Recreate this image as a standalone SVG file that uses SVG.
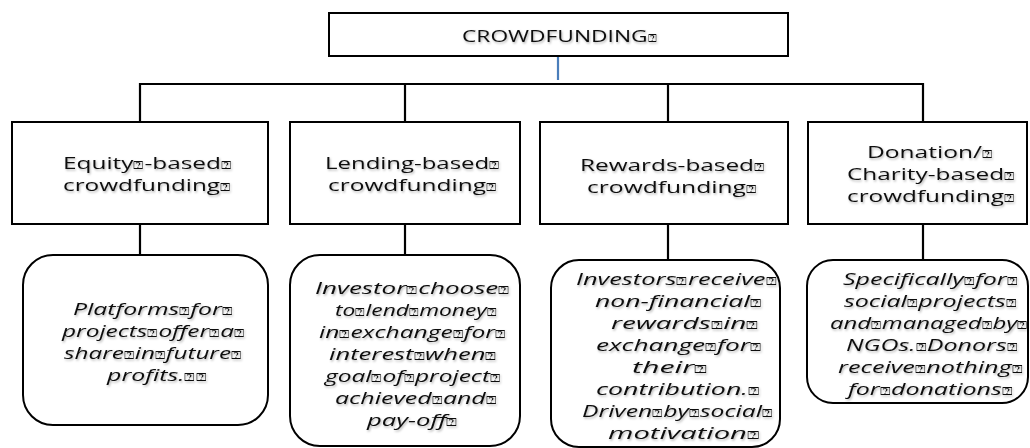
<svg xmlns="http://www.w3.org/2000/svg" width="1030" height="448" viewBox="0 0 1030 448">
<defs>
<filter id="sh" x="-10%" y="-30%" width="120%" height="160%">
<feDropShadow dx="1" dy="1.5" stdDeviation="1" flood-color="#000" flood-opacity="0.3"/>
</filter>
</defs>
<style>
.box{fill:#fff;stroke:#000;stroke-width:2}
.con{fill:none;stroke:#000;stroke-width:2.2}
.blue{stroke:#4a7ebb;stroke-width:2.2;fill:none}
.t{font-family:"Open Sans","DejaVu Sans",sans-serif;font-size:15.5px;fill:#111;filter:url(#sh)}
.top{font-size:17px}
.it{font-family:"Open Sans","DejaVu Sans",sans-serif;font-size:15.5px;font-style:italic;fill:#111;filter:url(#sh)}
.q{font-family:"DejaVu Sans",sans-serif;font-size:11px;font-style:normal}
</style>
<rect width="1030" height="448" fill="#fff"/>
<g id="connectors">
<line class="blue" x1="558" y1="56" x2="558" y2="80"/>
<polyline class="con" points="140,122 140,84 923,84 923,122"/>
<line class="con" x1="405" y1="84" x2="405" y2="122"/>
<line class="con" x1="668" y1="84" x2="668" y2="122"/>
<line class="con" x1="140" y1="224" x2="140" y2="255"/>
<line class="con" x1="405" y1="224" x2="405" y2="255"/>
<line class="con" x1="668" y1="224" x2="668" y2="260"/>
<line class="con" x1="923" y1="224" x2="923" y2="260"/>
</g>
<g id="root">
<rect class="box" x="329" y="13" width="459" height="43"/>
<text class="t top" x="462" y="42" textLength="195" lengthAdjust="spacingAndGlyphs">CROWDFUNDING<tspan class="q">⍰</tspan></text>
</g>
<g id="equity">
<rect class="box" x="12" y="122" width="256" height="102"/>
<text class="t" x="63" y="169" textLength="169" lengthAdjust="spacingAndGlyphs">Equity<tspan class="q">⍰</tspan>-based<tspan class="q">⍰</tspan></text>
<text class="t" x="63" y="191" textLength="168" lengthAdjust="spacingAndGlyphs">crowdfunding<tspan class="q">⍰</tspan></text>
</g>
<g id="lending">
<rect class="box" x="290" y="122" width="230" height="102"/>
<text class="t" x="325" y="169" textLength="175" lengthAdjust="spacingAndGlyphs">Lending-based<tspan class="q">⍰</tspan></text>
<text class="t" x="328" y="191" textLength="169" lengthAdjust="spacingAndGlyphs">crowdfunding<tspan class="q">⍰</tspan></text>
</g>
<g id="rewards">
<rect class="box" x="540" y="122" width="248" height="102"/>
<text class="t" x="580" y="171" textLength="185" lengthAdjust="spacingAndGlyphs">Rewards-based<tspan class="q">⍰</tspan></text>
<text class="t" x="587" y="193" textLength="170" lengthAdjust="spacingAndGlyphs">crowdfunding<tspan class="q">⍰</tspan></text>
</g>
<g id="donation">
<rect class="box" x="808" y="122" width="219" height="102"/>
<text class="t" x="867" y="158" textLength="126" lengthAdjust="spacingAndGlyphs">Donation/<tspan class="q">⍰</tspan></text>
<text class="t" x="847" y="180" textLength="168" lengthAdjust="spacingAndGlyphs">Charity-based<tspan class="q">⍰</tspan></text>
<text class="t" x="847" y="202" textLength="168" lengthAdjust="spacingAndGlyphs">crowdfunding<tspan class="q">⍰</tspan></text>
</g>
<g id="equity-desc">
<rect class="box" x="23" y="255" width="245" height="170" rx="30"/>
<text class="it" x="73" y="315" textLength="160" lengthAdjust="spacingAndGlyphs">Platforms<tspan class="q">⍰</tspan>for<tspan class="q">⍰</tspan></text>
<text class="it" x="62" y="337" textLength="183" lengthAdjust="spacingAndGlyphs">projects<tspan class="q">⍰</tspan>offer<tspan class="q">⍰</tspan>a<tspan class="q">⍰</tspan></text>
<text class="it" x="64" y="359" textLength="178" lengthAdjust="spacingAndGlyphs">share<tspan class="q">⍰</tspan>in<tspan class="q">⍰</tspan>future<tspan class="q">⍰</tspan></text>
<text class="it" x="107" y="381" textLength="100" lengthAdjust="spacingAndGlyphs">profits.<tspan class="q">⍰⍰</tspan></text>
</g>
<g id="lending-desc">
<rect class="box" x="290" y="255" width="230" height="191" rx="30"/>
<text class="it" x="315" y="294" textLength="195" lengthAdjust="spacingAndGlyphs">Investor<tspan class="q">⍰</tspan>choose<tspan class="q">⍰</tspan></text>
<text class="it" x="335" y="316" textLength="162" lengthAdjust="spacingAndGlyphs">to<tspan class="q">⍰</tspan>lend<tspan class="q">⍰</tspan>money<tspan class="q">⍰</tspan></text>
<text class="it" x="319" y="338" textLength="187" lengthAdjust="spacingAndGlyphs">in<tspan class="q">⍰</tspan>exchange<tspan class="q">⍰</tspan>for<tspan class="q">⍰</tspan></text>
<text class="it" x="329" y="360" textLength="168" lengthAdjust="spacingAndGlyphs">interest<tspan class="q">⍰</tspan>when<tspan class="q">⍰</tspan></text>
<text class="it" x="325" y="382" textLength="176" lengthAdjust="spacingAndGlyphs">goal<tspan class="q">⍰</tspan>of<tspan class="q">⍰</tspan>project<tspan class="q">⍰</tspan></text>
<text class="it" x="335" y="404" textLength="162" lengthAdjust="spacingAndGlyphs">achieved<tspan class="q">⍰</tspan>and<tspan class="q">⍰</tspan></text>
<text class="it" x="367" y="426" textLength="91" lengthAdjust="spacingAndGlyphs">pay-off<tspan class="q">⍰</tspan></text>
</g>
<g id="rewards-desc">
<rect class="box" x="551" y="260" width="229" height="187" rx="28"/>
<text class="it" x="576" y="285" textLength="201" lengthAdjust="spacingAndGlyphs">Investors<tspan class="q">⍰</tspan>receive<tspan class="q">⍰</tspan></text>
<text class="it" x="595" y="307" textLength="167" lengthAdjust="spacingAndGlyphs">non-financial<tspan class="q">⍰</tspan></text>
<text class="it" x="611" y="329" textLength="148" lengthAdjust="spacingAndGlyphs">rewards<tspan class="q">⍰</tspan>in<tspan class="q">⍰</tspan></text>
<text class="it" x="596" y="351" textLength="166" lengthAdjust="spacingAndGlyphs">exchange<tspan class="q">⍰</tspan>for<tspan class="q">⍰</tspan></text>
<text class="it" x="632" y="373" textLength="76" lengthAdjust="spacingAndGlyphs">their<tspan class="q">⍰</tspan></text>
<text class="it" x="596" y="395" textLength="164" lengthAdjust="spacingAndGlyphs">contribution.<tspan class="q">⍰</tspan></text>
<text class="it" x="582" y="417" textLength="191" lengthAdjust="spacingAndGlyphs">Driven<tspan class="q">⍰</tspan>by<tspan class="q">⍰</tspan>social<tspan class="q">⍰</tspan></text>
<text class="it" x="608" y="439" textLength="152" lengthAdjust="spacingAndGlyphs">motivation<tspan class="q">⍰</tspan></text>
</g>
<g id="donation-desc">
<rect class="box" x="807" y="260" width="221" height="143" rx="26"/>
<text class="it" x="843" y="285" textLength="175" lengthAdjust="spacingAndGlyphs">Specifically<tspan class="q">⍰</tspan>for<tspan class="q">⍰</tspan></text>
<text class="it" x="844" y="307" textLength="173" lengthAdjust="spacingAndGlyphs">social<tspan class="q">⍰</tspan>projects<tspan class="q">⍰</tspan></text>
<text class="it" x="830" y="329" textLength="198" lengthAdjust="spacingAndGlyphs">and<tspan class="q">⍰</tspan>managed<tspan class="q">⍰</tspan>by<tspan class="q">⍰</tspan></text>
<text class="it" x="846" y="351" textLength="172" lengthAdjust="spacingAndGlyphs">NGOs.<tspan class="q">⍰</tspan>Donors<tspan class="q">⍰</tspan></text>
<text class="it" x="838" y="373" textLength="185" lengthAdjust="spacingAndGlyphs">receive<tspan class="q">⍰</tspan>nothing<tspan class="q">⍰</tspan></text>
<text class="it" x="848" y="395" textLength="165" lengthAdjust="spacingAndGlyphs">for<tspan class="q">⍰</tspan>donations<tspan class="q">⍰</tspan></text>
</g>
</svg>
